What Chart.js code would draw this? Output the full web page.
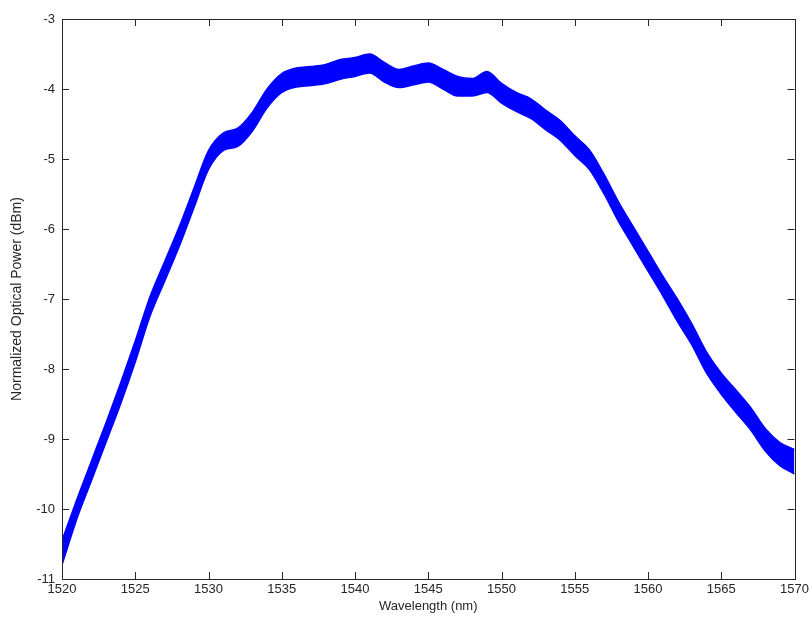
<!DOCTYPE html>
<html>
<head>
<meta charset="utf-8">
<script src="https://cdn.jsdelivr.net/npm/chart.js@4"></script>
<style>
  html, body { margin: 0; padding: 0; background: #fff; }
  #wrap { width: 812px; height: 620px; }
</style>
</head>
<body>
<div id="wrap"><canvas id="spectrum" width="812" height="620"></canvas></div>
<script>
// wavelength samples (nm), read every 1 nm off the picture
const wavelengths = [
  1520, 1521, 1522, 1523, 1524, 1525, 1526, 1527, 1528, 1529,
  1530, 1531, 1532, 1533, 1534, 1535, 1536, 1537, 1538, 1539,
  1540, 1541, 1542, 1543, 1544, 1545, 1546, 1547, 1548, 1549,
  1550, 1551, 1552, 1553, 1554, 1555, 1556, 1557, 1558, 1559,
  1560, 1561, 1562, 1563, 1564, 1565, 1566, 1567, 1568, 1569, 1570
];
// top edge of the noisy trace (dBm)
const powerUpper = [
  -10.45, -9.87, -9.32, -8.77, -8.20, -7.60, -6.97, -6.47, -5.97, -5.42,
  -4.88, -4.63, -4.56, -4.33, -4.00, -3.78, -3.70, -3.68, -3.65, -3.58,
  -3.55, -3.50, -3.62, -3.72, -3.67, -3.63, -3.72, -3.82, -3.85, -3.75,
  -3.92, -4.05, -4.14, -4.30, -4.45, -4.67, -4.87, -5.22, -5.62, -5.97,
  -6.32, -6.67, -7.00, -7.36, -7.76, -8.06, -8.30, -8.55, -8.85, -9.05, -9.15
];
// bottom edge of the noisy trace (dBm)
const powerLower = [
  -10.80, -10.15, -9.60, -9.05, -8.50, -7.90, -7.25, -6.75, -6.25, -5.70,
  -5.15, -4.88, -4.82, -4.60, -4.27, -4.05, -3.97, -3.95, -3.92, -3.86,
  -3.82, -3.77, -3.90, -3.98, -3.94, -3.90, -4.00, -4.10, -4.10, -4.05,
  -4.20, -4.32, -4.42, -4.58, -4.73, -4.95, -5.15, -5.50, -5.90, -6.25,
  -6.60, -6.95, -7.32, -7.66, -8.06, -8.36, -8.62, -8.87, -9.17, -9.38, -9.50
];
const xTicks = [1520, 1525, 1530, 1535, 1540, 1545, 1550, 1555, 1560, 1565, 1570];
const yTicks = [-11, -10, -9, -8, -7, -6, -5, -4, -3];

const TRACE = '#0000ff';
const AXIS = '#262626';
const FONT = "'Liberation Sans', Arial, sans-serif";

// matlab style box with inward ticks on all four sides
const boxAxes = {
  id: 'boxAxes',
  afterDraw(chart) {
    const { ctx, chartArea: a, scales } = chart;
    ctx.save();
    ctx.strokeStyle = AXIS;
    ctx.lineWidth = 1;
    ctx.strokeRect(Math.round(a.left) + 0.5, Math.round(a.top) + 0.5,
      Math.round(a.right - a.left), Math.round(a.bottom - a.top));
    ctx.beginPath();
    xTicks.forEach(v => {
      const x = Math.round(scales.x.getPixelForValue(v)) + 0.5;
      ctx.moveTo(x, a.bottom); ctx.lineTo(x, a.bottom - 7);
      ctx.moveTo(x, a.top); ctx.lineTo(x, a.top + 7);
    });
    yTicks.forEach(v => {
      const y = Math.round(scales.y.getPixelForValue(v)) + 0.5;
      ctx.moveTo(a.left, y); ctx.lineTo(a.left + 7, y);
      ctx.moveTo(a.right, y); ctx.lineTo(a.right - 7, y);
    });
    ctx.stroke();
    ctx.restore();
  }
};

const toPoints = arr => wavelengths.map((w, i) => ({ x: w, y: arr[i] }));

new Chart(document.getElementById('spectrum'), {
  type: 'line',
  data: {
    datasets: [
      {
        label: 'upper',
        data: toPoints(powerUpper),
        borderColor: TRACE,
        backgroundColor: TRACE,
        borderWidth: 1.5,
        pointRadius: 0,
        fill: '+1',
        cubicInterpolationMode: 'monotone'
      },
      {
        label: 'lower',
        data: toPoints(powerLower),
        borderColor: TRACE,
        borderWidth: 1.5,
        pointRadius: 0,
        fill: false,
        cubicInterpolationMode: 'monotone'
      }
    ]
  },
  options: {
    responsive: false,
    animation: false,
    layout: { padding: { top: 19, right: 16, bottom: 0, left: 0 } },
    plugins: { legend: { display: false }, tooltip: { enabled: false } },
    scales: {
      x: {
        type: 'linear',
        min: 1520,
        max: 1570,
        afterBuildTicks: s => { s.ticks = xTicks.map(v => ({ value: v })); },
        afterFit: s => { s.height = 41; },
        grid: { display: false, drawTicks: false },
        border: { display: false },
        ticks: { color: AXIS, font: { family: FONT, size: 13 }, padding: 3, maxRotation: 0, callback: v => String(v) },
        title: { display: true, text: 'Wavelength (nm)', color: AXIS, font: { family: FONT, size: 13 }, padding: { top: 0, bottom: 6 } }
      },
      y: {
        min: -11,
        max: -3,
        afterBuildTicks: s => { s.ticks = yTicks.map(v => ({ value: v })); },
        afterFit: s => { s.width = 62; },
        grid: { display: false, drawTicks: false },
        border: { display: false },
        ticks: { color: AXIS, font: { family: FONT, size: 13 }, padding: 7, callback: v => String(v) },
        title: { display: true, text: 'Normalized Optical Power (dBm)', color: AXIS, font: { family: FONT, size: 14 }, padding: { top: 9, bottom: 0 } }
      }
    }
  },
  plugins: [boxAxes]
});
</script>
</body>
</html>
